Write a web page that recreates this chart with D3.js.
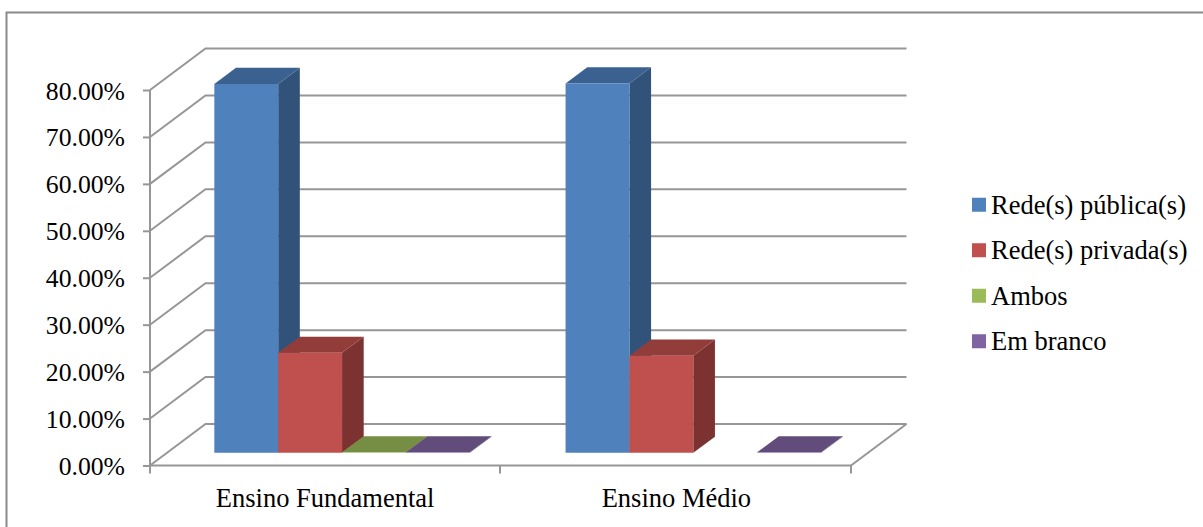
<!DOCTYPE html>
<html>
<head>
<meta charset="utf-8">
<script src="https://cdnjs.cloudflare.com/ajax/libs/d3/7.8.5/d3.min.js"></script>
<style>
  html, body { margin: 0; background: #fff; }
  text { font-family: "Liberation Serif", serif; fill: #000; }
</style>
</head>
<body>
<div id="chart"></div>
<script>
const categories = ["Ensino Fundamental", "Ensino Médio"];
const seriesNames = ["Rede(s) pública(s)", "Rede(s) privada(s)", "Ambos", "Em branco"];
const publica = [78.6, 78.7];
const privada = [21.3, 20.7];
const ambos = [0.1, 0];
const branco = [0.1, 0.1];
const yTicks = [0, 10, 20, 30, 40, 50, 60, 70, 80];

const seriesValues = [publica, privada, ambos, branco];

/* front, top and side colours of each series */
const front = ["#4f81bd", "#c0504d", "#9bbb59", "#8064a2"];
const topc = ["#3b6190", "#923d3a", "#768e43", "#614c7b"];
const side = ["#325379", "#7c3230", "#637839", "#524067"];

const width = 1203,
      height = 527,
      border = {left: 6.5, top: 12.5},
      plotLeft = 150,
      plotRight = 851;

const svg = d3.select("#chart")
              .append("svg")
              .attr("width", width)
              .attr("height", height)
              .style("display", "block");

svg.append("path")
   .attr("d", `M${border.left},${height} V${border.top} H${width}`)
   .attr("fill", "none")
   .attr("stroke", "#8a8a8a")
   .attr("stroke-width", 2);

const x = d3.scaleBand()
            .domain(categories)
            .range([plotLeft - 0.5, plotRight + 1]);

const x1 = d3.scaleBand()
             .domain(seriesNames)
             .range([0, x.bandwidth()])
             .paddingOuter(0.75);

const y = d3.scaleLinear()
            .domain([0, 80])
            .range([465.5, 90]);

/* depth of the 3d box, 0 = front of the floor, 1 = back wall */
const zx = d3.scaleLinear().domain([0, 1]).range([0, 55.5]);
const zy = d3.scaleLinear().domain([0, 1]).range([0, -41.5]);

const barZ = [0.305, 0.695];

const pt = (px, v, z) => [px + zx(z), y(v) + zy(z)];
const poly = pts => "M" + pts.map(p => p.join(",")).join("L") + "Z";

const gridColor = "#969696";

/* walls */
const grid = svg.append("g")
                .attr("fill", "none")
                .attr("stroke", gridColor)
                .attr("stroke-width", 2);

grid.selectAll("path")
    .data(yTicks)
    .join("path")
    .attr("d", d => d3.line()([pt(plotLeft, d, 0), pt(plotLeft, d, 1), pt(plotRight, d, 1)]));

grid.append("path")
    .attr("d", d3.line()([pt(plotRight, 0, 0), pt(plotRight, 0, 1)]));

/* axes */
const yAxis = d3.axisLeft(y)
                .tickValues(yTicks)
                .tickFormat(d => d3.format(".2f")(d) + "%")
                .tickSize(7)
                .tickPadding(18);

const xAxis = d3.axisBottom(x)
                .tickSize(0)
                .tickPadding(23);

const gy = svg.append("g")
              .attr("transform", `translate(${plotLeft},0)`)
              .call(yAxis);

const gx = svg.append("g")
              .attr("transform", `translate(0,${y(0)})`)
              .call(xAxis);

gx.append("g")
  .selectAll("line")
  .data([plotLeft, 500, plotRight])
  .join("line")
  .attr("x1", d => d).attr("x2", d => d)
  .attr("y1", 0).attr("y2", 8)
  .attr("stroke", gridColor)
  .attr("stroke-width", 2);

for (const g of [gx, gy]) {
    g.selectAll(".domain, .tick line")
     .attr("stroke", gridColor)
     .attr("stroke-width", 2);
    g.selectAll("text")
     .attr("font-family", "Liberation Serif")
     .attr("fill", "#000");
}
gy.selectAll("text").attr("font-size", 25.7).attr("dy", "0.35em");
gx.selectAll("text").attr("font-size", 26.5);
gy.select(".domain").attr("d", `M0,${y(80)}V${y(0)}`);
gx.select(".domain").attr("d", `M${plotLeft},0H${plotRight}`);

/* bars, drawn from the left so the sides overlap correctly */
const bars = svg.append("g");

categories.forEach((cat, c) => {
    seriesNames.forEach((name, s) => {
        const v = seriesValues[s][c];
        if (v === 0) return;
        const x0 = x(cat) + x1(name),
              x2 = x0 + x1.bandwidth();
        const g = bars.append("g");
        g.append("path")
         .attr("fill", side[s])
         .attr("d", poly([pt(x2, 0, barZ[0]), pt(x2, 0, barZ[1]), pt(x2, v, barZ[1]), pt(x2, v, barZ[0])]));
        g.append("path")
         .attr("fill", topc[s])
         .attr("d", poly([pt(x0, v, barZ[0]), pt(x2, v, barZ[0]), pt(x2, v, barZ[1]), pt(x0, v, barZ[1])]));
        g.append("path")
         .attr("fill", front[s])
         .attr("d", poly([pt(x0, 0, barZ[0]), pt(x2, 0, barZ[0]), pt(x2, v, barZ[0]), pt(x0, v, barZ[0])]));
    });
});

/* legend */
const legendY = d3.scaleBand()
                  .domain(seriesNames)
                  .range([182, 364]);

const legend = svg.append("g")
                  .selectAll("g")
                  .data(seriesNames)
                  .join("g")
                  .attr("transform", d => `translate(972,${legendY(d) + legendY.bandwidth() / 2})`);

legend.append("rect")
      .attr("y", -7)
      .attr("width", 14)
      .attr("height", 14)
      .attr("fill", (d, i) => front[i]);

legend.append("text")
      .text(d => d)
      .attr("x", 19)
      .attr("y", 9)
      .attr("font-size", 26.5);
</script>
</body>
</html>
